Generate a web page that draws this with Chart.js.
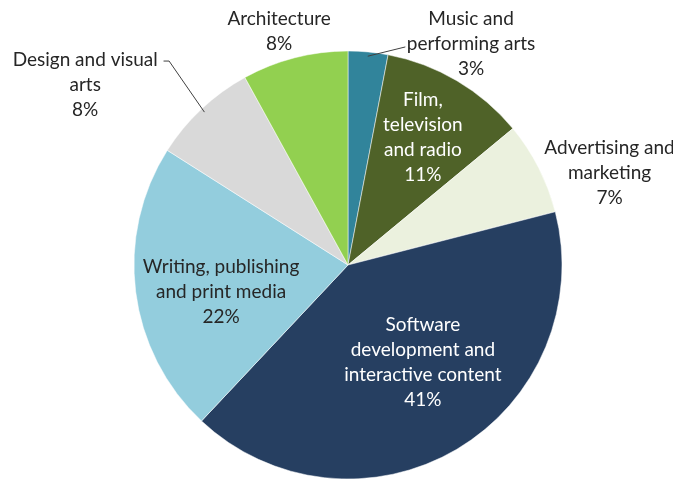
<!DOCTYPE html>
<html>
<head>
<meta charset="utf-8">
<script src="https://cdn.jsdelivr.net/npm/chart.js@4.4.1/dist/chart.umd.min.js"></script>
<style>
  html, body { margin: 0; padding: 0; background: #ffffff; }
  #wrap { width: 673px; height: 479px; position: relative; }
</style>
</head>
<body>
<div id="wrap"><canvas id="c" width="673" height="479"></canvas></div>
<script>
// ---- data ----
const categories = [
  "Music and performing arts",
  "Film, television and radio",
  "Advertising and marketing",
  "Software development and interactive content",
  "Writing, publishing and print media",
  "Design and visual arts",
  "Architecture"
];
const shares = [3, 11, 7, 41, 22, 8, 8];
const labelLines = [
  ["Music and", "performing arts", "3%"],
  ["Film,", "television", "and radio", "11%"],
  ["Advertising and", "marketing", "7%"],
  ["Software", "development and", "interactive content", "41%"],
  ["Writing, publishing", "and print media", "22%"],
  ["Design and visual", "arts", "8%"],
  ["Architecture", "8%"]
];

// ---- styles ----
const sliceColors = ["#31849B", "#4F6228", "#EBF1DE", "#263F61", "#93CDDD", "#D9D9D9", "#92D050"];
const textColors = ["#262626", "#FFFFFF", "#262626", "#FFFFFF", "#262626", "#262626", "#262626"];
// label block centre, relative to pie centre in units of the radius
const labelPos = [
  [0.575, -1.035],
  [0.350, -0.597],
  [1.222, -0.430],
  [0.350, 0.453],
  [-0.593, 0.126],
  [-1.228, -0.842],
  [-0.322, -1.093]
];
// leader lines: index -> list of points (relative), drawn from arc edge
const leaders = {
  0: [[0.268, -1.019]],
  5: [[-0.836, -0.953], [-0.862, -0.953]]
};
const FONT = '19px Lato, "Open Sans", sans-serif';
const LINE_H = 25;

const labelPlugin = {
  id: 'pieLabels',
  afterDatasetsDraw(chart) {
    const ctx = chart.ctx;
    const meta = chart.getDatasetMeta(0);
    ctx.save();
    ctx.font = FONT;
    ctx.textAlign = 'center';
    ctx.textBaseline = 'middle';
    meta.data.forEach((arc, i) => {
      const p = arc.getProps(['x', 'y', 'startAngle', 'endAngle', 'outerRadius'], true);
      const R = p.outerRadius;
      const mid = (p.startAngle + p.endAngle) / 2;
      if (leaders[i]) {
        ctx.strokeStyle = '#404040';
        ctx.lineWidth = 1;
        ctx.beginPath();
        ctx.moveTo(p.x + Math.cos(mid) * R * 0.98, p.y + Math.sin(mid) * R * 0.98);
        leaders[i].forEach(pt => ctx.lineTo(p.x + pt[0] * R, p.y + pt[1] * R));
        ctx.stroke();
      }
      const lines = labelLines[i];
      const cx = p.x + labelPos[i][0] * R;
      const cy = p.y + labelPos[i][1] * R;
      ctx.fillStyle = textColors[i];
      const top = cy - (lines.length - 1) * LINE_H / 2;
      lines.forEach((t, k) => ctx.fillText(t, cx, top + k * LINE_H));
    });
    ctx.restore();
  }
};

new Chart(document.getElementById('c'), {
  type: 'pie',
  data: {
    labels: categories,
    datasets: [{
      data: shares,
      backgroundColor: sliceColors,
      borderColor: '#FFFFFF',
      borderWidth: 0.5,
      hoverOffset: 0
    }]
  },
  options: {
    responsive: false,
    animation: false,
    radius: 214,
    layout: { padding: { left: 23, right: 0, top: 51, bottom: 0 } },
    plugins: {
      legend: { display: false },
      tooltip: { enabled: false }
    }
  },
  plugins: [labelPlugin]
});
</script>
</body>
</html>
